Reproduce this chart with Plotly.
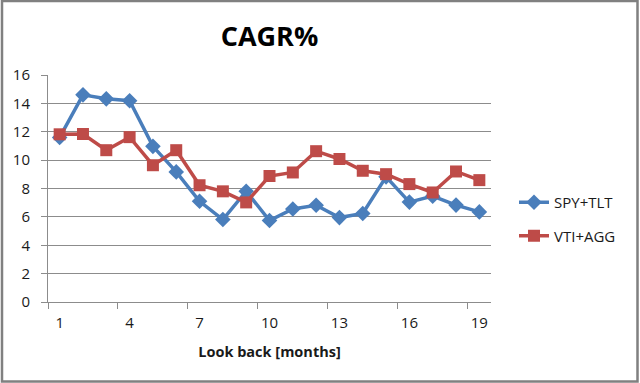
import plotly.graph_objects as go

months = list(range(1, 20))
spy_tlt = [11.6, 14.6, 14.32, 14.19, 10.97, 9.17, 7.1, 5.81, 7.81, 5.74, 6.56, 6.82,
           5.95, 6.24, 8.82, 7.04, 7.46, 6.83, 6.35]
vti_agg = [11.82, 11.84, 10.7, 11.62, 9.64, 10.7, 8.23, 7.8, 7.02, 8.88, 9.13, 10.63,
           10.08, 9.25, 9.01, 8.31, 7.72, 9.2, 8.59]
x_tick_labels = [1, 4, 7, 10, 13, 16, 19]
x_boundaries = [0.5, 3.5, 6.5, 9.5, 12.5, 15.5, 18.5]

BLUE = "#4A7EBB"
RED = "#BE4B48"
GRID = "#8C8C8C"
TXT = "#1a1a1a"
FONT = "Open Sans"

fig = go.Figure()
fig.add_trace(go.Scatter(
    x=months, y=spy_tlt, name="SPY+TLT", mode="lines+markers",
    line=dict(color=BLUE, width=3.5),
    marker=dict(symbol="diamond", size=12, color=BLUE),
    legendgroup="a",
))
fig.add_trace(go.Scatter(
    x=months, y=vti_agg, name="VTI+AGG", mode="lines+markers",
    line=dict(color=RED, width=3.5),
    marker=dict(symbol="square", size=12, color=RED),
    legendgroup="b",
))

L, R, T, B = 48, 149, 75, 81
W, H = 640, 383
pw, ph = W - L - R, H - T - B

def px_x(p):
    return (p - L) / pw

def px_y(p):
    return (H - B - p) / ph

fig.update_layout(
    width=W, height=H,
    margin=dict(l=L, r=R, t=T, b=B),
    paper_bgcolor="white", plot_bgcolor="white",
    font=dict(family=FONT, color=TXT, size=14),
    title=dict(text="<b>CAGR%</b>", x=0.5, xref="paper", xanchor="center",
               y=1 - 37 / H, yanchor="middle",
               font=dict(family=FONT, size=27, color="black")),
    showlegend=True,
    legend=dict(x=px_x(514), xanchor="left", y=px_y(219), yanchor="middle",
                font=dict(family=FONT, size=15, color=TXT),
                traceorder="grouped", tracegroupgap=11,
                bgcolor="rgba(0,0,0,0)"),
    xaxis=dict(
        range=[0.5, 19.5], tickmode="array", tickvals=x_tick_labels,
        ticktext=[str(v) for v in x_tick_labels],
        ticks="", showgrid=False, showline=True, linecolor=GRID, linewidth=1,
        zeroline=False, tickfont=dict(size=15, color=TXT), ticklabelstandoff=7,
        minor=dict(tickmode="array", tickvals=x_boundaries, ticks="outside",
                   ticklen=6, tickcolor=GRID, tickwidth=1, showgrid=False),
        title=dict(text="<b>Look back [months]</b>", font=dict(size=14.5, color=TXT),
                   standoff=15),
        fixedrange=True,
    ),
    yaxis=dict(
        range=[0, 16], dtick=2, tick0=0, ticks="outside", ticklen=6,
        tickcolor=GRID, showgrid=True, gridcolor=GRID, gridwidth=1,
        showline=True, linecolor=GRID, linewidth=1, zeroline=False,
        tickfont=dict(size=15, color=TXT), ticklabelstandoff=8,
        fixedrange=True,
    ),
)

fig.add_shape(type="rect", xref="paper", yref="paper",
              x0=px_x(2), x1=px_x(637.5), y0=px_y(1), y1=px_y(381.5),
              line=dict(color="#808080", width=2.5), fillcolor="rgba(0,0,0,0)",
              layer="above")

fig.write_html("out.html", config={"displayModeBar": False},
               post_script="document.body.style.margin='0';document.body.style.padding='0';")
